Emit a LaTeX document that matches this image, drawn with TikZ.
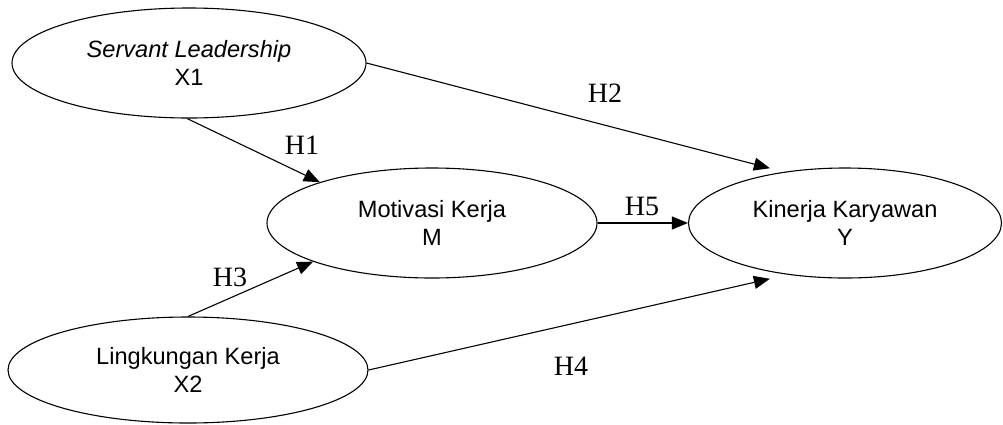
\documentclass[tikz,border=0pt]{standalone}
\usepackage{fontspec}
\setmainfont{Liberation Serif}
\setsansfont{Liberation Sans}
\usetikzlibrary{shapes.geometric,arrows.meta,calc}
\begin{document}
\begin{tikzpicture}[x=1pt, y=-1pt,
  var/.style={ellipse, draw, line width=1.1pt, inner sep=0pt, align=center,
    font=\sffamily\fontsize{23.6}{28}\selectfont},
  hyp/.style={inner sep=0pt, font=\fontsize{28}{30}\selectfont},
  path/.style={draw, line width=1.1pt, -{Triangle[length=16pt,width=13pt]}}]
\useasboundingbox (0,0) rectangle (1003,424);
% Variabel {{{
\node[var, minimum width=354pt, minimum height=110pt] (x1) at (189,63) {\textit{Servant Leadership}\\X1};
\node[var, minimum width=330pt, minimum height=110pt] (m) at (432,223) {Motivasi Kerja\\M};
\node[var, minimum width=360pt, minimum height=106pt] (x2) at (188,370) {Lingkungan Kerja\\X2};
\node[var, minimum width=313pt, minimum height=110pt] (y) at (845,223) {Kinerja Karyawan\\Y};
% }}}
% Hipotesis {{{
\draw[path] (x1.268) -- (m.160);
\draw[path] (x1.east) -- ($(y.147)+(0,-6)$);
\draw[path] (x2.north) -- (m.198);
\draw[path] (x2.east) -- ($(y.213)+(0,7)$);
\draw[path] (m.east) -- (y.west);
\node[hyp] (h1) at (302,145) {H1};
\node[hyp] (h2) at (605,93) {H2};
\node[hyp] (h3) at (230,277) {H3};
\node[hyp] (h4) at (571,366) {H4};
\node[hyp] (h5) at (642,206) {H5};
% }}}
\end{tikzpicture}
\end{document}
